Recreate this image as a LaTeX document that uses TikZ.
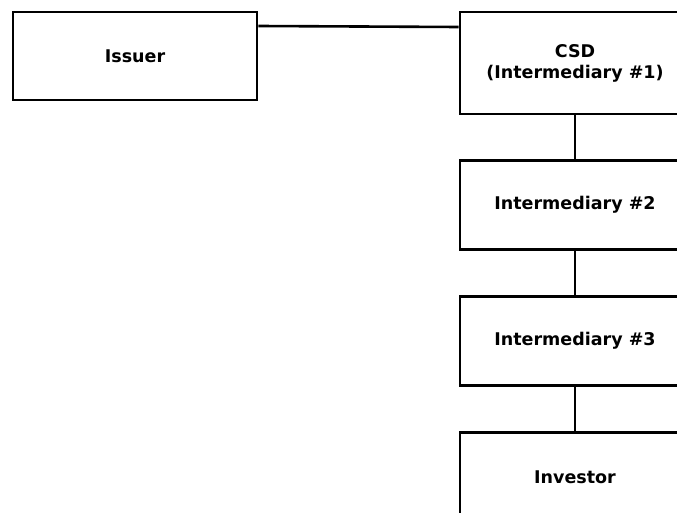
\documentclass[tikz,border=0pt]{standalone}
\usepackage{fontspec}
\setmainfont{DejaVu Sans}
\begin{document}
\begin{tikzpicture}[x=1pt,y=-1pt,
  box/.style={draw=black,line width=2.6pt,fill=white,inner sep=0pt,align=center,font=\bfseries\fontsize{17.5}{21}\selectfont},
  link/.style={draw=black,line width=2.6pt}]
\useasboundingbox (0,0) rectangle (677,513);
\clip (0,0) rectangle (677,513);
\node[box,minimum width=244pt,minimum height=88pt] (issuer) at (135,56) {Issuer};
\node[box,minimum width=230pt,minimum height=102pt] (csd) at (575,63) {CSD\\(Intermediary \#1)};
\node[box,minimum width=230pt,minimum height=89pt] (i2) at (575,205) {Intermediary \#2};
\node[box,minimum width=230pt,minimum height=89pt] (i3) at (575,341) {Intermediary \#3};
\node[box,minimum width=230pt,minimum height=89pt] (inv) at (575,477) {Investor};
\coordinate (a) at ([yshift=30pt]issuer.east);
\coordinate (b) at ([yshift=36pt]csd.west);
\draw[link] (a) -- (b);
\draw[link] (csd) -- (i2);
\draw[link] (i2) -- (i3);
\draw[link] (i3) -- (inv);
\end{tikzpicture}
\end{document}
